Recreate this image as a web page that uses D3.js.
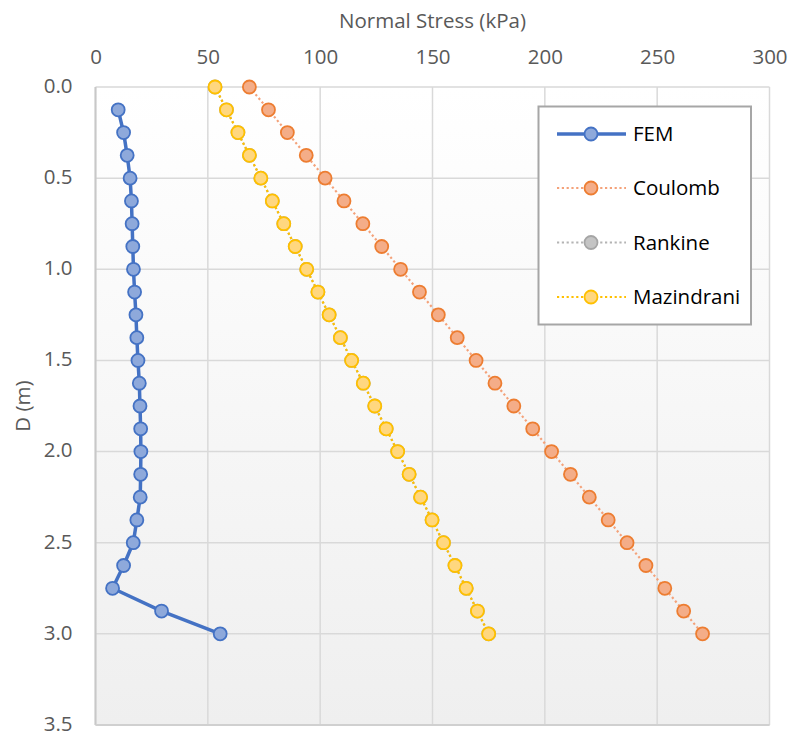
<!DOCTYPE html>
<html>
<head>
<meta charset="utf-8">
<script src="https://cdn.jsdelivr.net/npm/d3@7"></script>
<style>
  html, body { margin: 0; padding: 0; background: #ffffff; }
  svg { display: block; font-family: "Open Sans", "Noto Sans", sans-serif; }
</style>
</head>
<body>
<svg id="chart" width="791" height="736"></svg>
<script>
// ---- Data ----
const depthAll = [0, 0.125, 0.25, 0.375, 0.5, 0.625, 0.75, 0.875, 1.0, 1.125, 1.25, 1.375, 1.5,
                  1.625, 1.75, 1.875, 2.0, 2.125, 2.25, 2.375, 2.5, 2.625, 2.75, 2.875, 3.0];
const depthFEM = [0.125, 0.25, 0.375, 0.5, 0.625, 0.75, 0.875, 1.0, 1.125, 1.25, 1.375, 1.5,
                  1.625, 1.75, 1.875, 2.0, 2.125, 2.25, 2.375, 2.5, 2.625, 2.75, 2.875, 3.0];
const femStress = [10.1, 12.5, 14.1, 15.4, 16.0, 16.3, 16.6, 16.9, 17.4, 18.0, 18.4, 18.9,
                   19.5, 19.8, 20.1, 20.2, 20.1, 19.9, 18.4, 16.8, 12.5, 7.6, 29.4, 55.5];
const coulombStress = [68.5, 77.0, 85.4, 93.8, 102.2, 110.6, 119.0, 127.4, 135.8, 144.2, 152.6, 161.0,
                       169.4, 177.8, 186.2, 194.6, 203.0, 211.4, 219.8, 228.2, 236.6, 245.0, 253.4, 261.8, 270.2];
const rankineStress = [53.2, 58.3, 63.4, 68.5, 73.6, 78.7, 83.8, 88.9, 94.0, 99.0, 104.0, 109.0,
                       114.0, 119.2, 124.3, 129.4, 134.5, 139.6, 144.7, 149.8, 154.9, 160.0, 165.0, 170.0, 175.0];
const mazindraniStress = [53.2, 58.3, 63.4, 68.5, 73.6, 78.7, 83.8, 88.9, 94.0, 99.0, 104.0, 109.0,
                          114.0, 119.2, 124.3, 129.4, 134.5, 139.6, 144.7, 149.8, 154.9, 160.0, 165.0, 170.0, 175.0];
const xTicks = [0, 50, 100, 150, 200, 250, 300];
const yTicks = [0, 0.5, 1.0, 1.5, 2.0, 2.5, 3.0, 3.5];
const seriesNames = ["FEM", "Coulomb", "Rankine", "Mazindrani"];

// ---- Styles ----
const styles = {
  FEM:        { line: "#4472c4", width: 3.5, dash: null,      fill: "#8ea9db", stroke: "#4472c4" },
  Coulomb:    { line: "#f4a27a", width: 2.2, dash: "2.2 2.6", fill: "#f4ad88", stroke: "#ed7d31" },
  Rankine:    { line: "#b4b4b4", width: 2.2, dash: "2.2 2.6", fill: "#c4c4c4", stroke: "#a5a5a5" },
  Mazindrani: { line: "#ffc000", width: 2.2, dash: "2.2 2.6", fill: "#ffd77f", stroke: "#ffc000" }
};

const series = [
  { name: "FEM",        pts: depthFEM.map((d, i) => ({ d, s: femStress[i] })) },
  { name: "Coulomb",    pts: depthAll.map((d, i) => ({ d, s: coulombStress[i] })) },
  { name: "Rankine",    pts: depthAll.map((d, i) => ({ d, s: rankineStress[i] })) },
  { name: "Mazindrani", pts: depthAll.map((d, i) => ({ d, s: mazindraniStress[i] })) }
];

const svg = d3.select("#chart");
const pLeft = 95.5, pRight = 769.5, pTop = 87, pBottom = 725;
const x = d3.scaleLinear().domain([0, 300]).range([pLeft, pRight]);
const y = d3.scaleLinear().domain([0, 3.5]).range([pTop, pBottom]);

// Background gradient of plot area
const defs = svg.append("defs");
const grad = defs.append("linearGradient").attr("id", "bg").attr("x1", 0).attr("y1", 0).attr("x2", 0).attr("y2", 1);
grad.append("stop").attr("offset", "0%").attr("stop-color", "#ffffff");
grad.append("stop").attr("offset", "100%").attr("stop-color", "#efefef");
svg.append("rect").attr("x", pLeft).attr("y", pTop).attr("width", pRight - pLeft).attr("height", pBottom - pTop)
  .attr("fill", "url(#bg)");

// Gridlines
const grid = svg.append("g");
grid.selectAll("line.v").data(xTicks).join("line").attr("class", "v")
  .attr("x1", d => x(d)).attr("x2", d => x(d)).attr("y1", pTop).attr("y2", pBottom)
  .attr("stroke", "#d9d9d9").attr("stroke-width", 1.5);
grid.selectAll("line.h").data(yTicks).join("line").attr("class", "h")
  .attr("x1", pLeft).attr("x2", pRight).attr("y1", d => y(d)).attr("y2", d => y(d))
  .attr("stroke", "#d9d9d9").attr("stroke-width", 1.5);
// axis lines (left & bottom)
svg.append("line").attr("x1", pLeft).attr("x2", pLeft).attr("y1", pTop).attr("y2", pBottom)
  .attr("stroke", "#c8c8c8").attr("stroke-width", 2);
svg.append("line").attr("x1", pLeft).attr("x2", pRight).attr("y1", pBottom).attr("y2", pBottom)
  .attr("stroke", "#d0d0d0").attr("stroke-width", 2);

// Axes via d3 axis generators (tick lines hidden)
const fs = 20.5;
const xAxis = d3.axisTop(x).tickValues(xTicks).tickFormat(d3.format("d")).tickSize(0).tickPadding(0);
const gx = svg.append("g").attr("transform", `translate(0,${pTop - 23})`).call(xAxis);
gx.select(".domain").remove();
gx.selectAll("text").attr("font-size", fs).attr("fill", "#595959")
  .attr("font-family", "'Open Sans', sans-serif").attr("dy", "0");

const yAxis = d3.axisLeft(y).tickValues(yTicks).tickFormat(d3.format(".1f")).tickSize(0).tickPadding(0);
const gy = svg.append("g").attr("transform", `translate(${pLeft - 23},0)`).call(yAxis);
gy.select(".domain").remove();
gy.selectAll("text").attr("font-size", fs).attr("fill", "#595959")
  .attr("font-family", "'Open Sans', sans-serif").attr("dy", "0.26em");

// Axis titles
svg.append("text").attr("x", (pLeft + pRight) / 2).attr("y", 28).attr("text-anchor", "middle")
  .attr("font-size", fs).attr("fill", "#595959").text("Normal Stress (kPa)");
svg.append("text").attr("transform", `translate(30,${(pTop + pBottom) / 2}) rotate(-90)`)
  .attr("text-anchor", "middle").attr("font-size", fs).attr("fill", "#595959").text("D (m)");

// Series
const line = d3.line().x(p => x(p.s)).y(p => y(p.d));
const order = ["Coulomb", "Rankine", "Mazindrani", "FEM"];
order.forEach(name => {
  const s = series.find(k => k.name === name);
  const st = styles[name];
  const g = svg.append("g");
  g.append("path").datum(s.pts).attr("d", line).attr("fill", "none")
    .attr("stroke", st.line).attr("stroke-width", st.width)
    .attr("stroke-dasharray", st.dash).attr("stroke-linejoin", "round");
  g.selectAll("circle").data(s.pts).join("circle")
    .attr("cx", p => x(p.s)).attr("cy", p => y(p.d)).attr("r", 6.5)
    .attr("fill", st.fill).attr("stroke", st.stroke).attr("stroke-width", 1.8);
});

// Legend
const lg = svg.append("g");
lg.append("rect").attr("x", 538.5).attr("y", 106.5).attr("width", 212.5).attr("height", 218)
  .attr("fill", "#ffffff").attr("stroke", "#a6a6a6").attr("stroke-width", 2);
const legendY = [134, 188, 242.5, 297];
seriesNames.forEach((name, i) => {
  const st = styles[name];
  const yy = legendY[i];
  lg.append("line").attr("x1", 557).attr("x2", 626).attr("y1", yy).attr("y2", yy)
    .attr("stroke", st.line).attr("stroke-width", st.width).attr("stroke-dasharray", st.dash);
  lg.append("circle").attr("cx", 591).attr("cy", yy).attr("r", 6.5)
    .attr("fill", st.fill).attr("stroke", st.stroke).attr("stroke-width", 1.8);
  lg.append("text").attr("x", 633).attr("y", yy).attr("dy", "0.35em")
    .attr("font-size", fs).attr("fill", "#000000").text(name);
});
</script>
</body>
</html>
